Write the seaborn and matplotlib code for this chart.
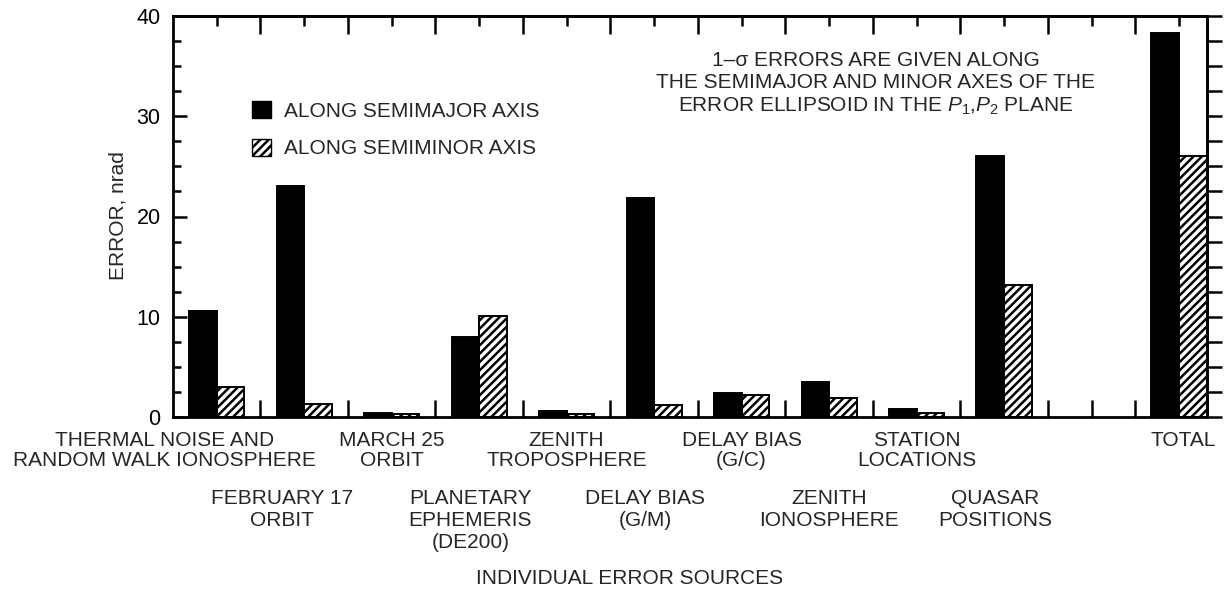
import numpy as np
import pandas as pd
import matplotlib
matplotlib.use("Agg")
import matplotlib.pyplot as plt
import seaborn as sns
from matplotlib.patches import Patch
from matplotlib.ticker import FixedLocator, MultipleLocator, NullFormatter

# ---- data -----------------------------------------------------------------
sources = ["THERMAL", "FEB17", "MAR25", "PLANETARY", "ZEN_TROP", "DELAY_GM",
           "DELAY_GC", "ZEN_ION", "STATION", "QUASAR", "SPACER", "TOTAL"]
semimajor = [10.6, 23.0, 0.4, 8.0, 0.6, 21.8, 2.4, 3.5, 0.8, 26.0, np.nan, 38.3]
semiminor = [3.0, 1.3, 0.25, 10.1, 0.3, 1.2, 2.2, 1.85, 0.4, 13.2, np.nan, 26.0]
series_names = ["ALONG SEMIMAJOR AXIS", "ALONG SEMIMINOR AXIS"]

row1_labels = ["THERMAL NOISE AND\nRANDOM WALK IONOSPHERE", "MARCH 25\nORBIT",
               "ZENITH\nTROPOSPHERE", "DELAY BIAS\n(G/C)", "STATION\nLOCATIONS", "TOTAL"]
row1_slots = [0, 2, 4, 6, 8, 11]
row1_shift = [-0.6, 0.0, 0.0, 0.0, 0.0, 0.05]
row2_labels = ["FEBRUARY 17\nORBIT", "PLANETARY\nEPHEMERIS\n(DE200)", "DELAY BIAS\n(G/M)",
               "ZENITH\nIONOSPHERE", "QUASAR\nPOSITIONS"]
row2_slots = [1, 3, 5, 7, 9]
row2_shift = [-0.25, -0.1, -0.1, 0.0, -0.1]

y_ticks = [0, 10, 20, 30, 40]

df = pd.DataFrame({
    "source": sources * 2,
    "error": semimajor + semiminor,
    "axis": [series_names[0]] * len(sources) + [series_names[1]] * len(sources),
})

# ---- style ----------------------------------------------------------------
sns.set_theme(style="white")
plt.rcParams["font.family"] = ["Liberation Sans", "DejaVu Sans"]
plt.rcParams["mathtext.fontset"] = "custom"
plt.rcParams["mathtext.rm"] = "Liberation Sans"
plt.rcParams["mathtext.it"] = "Liberation Sans:italic"
plt.rcParams["hatch.linewidth"] = 1.8
plt.rcParams["hatch.color"] = "black"

FS = 15
W, H = 1224, 593
fig = plt.figure(figsize=(W / 100, H / 100), dpi=100)
ax = fig.add_axes([173 / W, 1 - 417 / H, (1207 - 173) / W, (417 - 16) / H])

sns.barplot(data=df, x="source", y="error", hue="axis", order=sources,
            hue_order=series_names, palette=["black", "white"], saturation=1,
            width=0.63, gap=0, errorbar=None, edgecolor="black", linewidth=1.4,
            legend=False, ax=ax)

for patch in ax.containers[1]:
    patch.set_hatch("////")

ax.set_xlim(-0.5, 11.32)
ax.set_ylim(0, 40)
ax.set_xlabel("")
ax.set_ylabel("")

for side in ["left", "right", "top", "bottom"]:
    ax.spines[side].set_visible(True)
    ax.spines[side].set_linewidth(2.0)
    ax.spines[side].set_color("black")

# bottom: short inward ticks between groups
bottom_ticks = [0.5, 1.5, 2.5, 3.5, 4.5, 5.5, 6.5, 7.5, 8.5, 9.5, 10.0, 10.5]
ax.xaxis.set_major_locator(FixedLocator(bottom_ticks))
ax.xaxis.set_major_formatter(NullFormatter())
ax.tick_params(axis="x", which="major", direction="in", length=12, width=1.8,
               bottom=True, top=False, colors="black")

# left: labelled inward ticks
ax.yaxis.set_major_locator(FixedLocator(y_ticks))
ax.yaxis.set_minor_locator(MultipleLocator(2.5))
ax.set_yticklabels([str(v) for v in y_ticks])
ax.tick_params(axis="y", which="major", direction="in", length=10, width=1.8,
               labelsize=FS + 0.5, pad=9, left=True, right=False, colors="black")
ax.tick_params(axis="y", which="minor", direction="in", length=6, width=1.8,
               left=True, right=False, colors="black")

# top: long ticks at group boundaries, short ticks at group centres
top = ax.secondary_xaxis("top")
top.xaxis.set_major_locator(FixedLocator([i + 0.5 for i in range(11)]))
top.xaxis.set_minor_locator(FixedLocator(list(range(12))))
top.xaxis.set_major_formatter(NullFormatter())
top.tick_params(which="major", direction="in", length=13, width=1.8, colors="black")
top.tick_params(which="minor", direction="in", length=7, width=1.8, colors="black")
top.spines["top"].set_linewidth(2.0)

# right: outward ticks
right = ax.secondary_yaxis("right")
right.yaxis.set_major_locator(MultipleLocator(2.5))
right.yaxis.set_major_formatter(NullFormatter())
right.tick_params(which="major", direction="out", length=11, width=1.8, colors="black")
right.spines["right"].set_linewidth(2.0)

# category labels in two staggered rows
for lab, s, d in zip(row1_labels, row1_slots, row1_shift):
    ax.annotate(lab, xy=(s + d, 0), xycoords=("data", "axes fraction"),
                xytext=(0, -10), textcoords="offset points", ha="center", va="top",
                fontsize=FS, linespacing=1.1, annotation_clip=False)
for lab, s, d in zip(row2_labels, row2_slots, row2_shift):
    ax.annotate(lab, xy=(s + d, 0), xycoords=("data", "axes fraction"),
                xytext=(0, -52), textcoords="offset points", ha="center", va="top",
                fontsize=FS, linespacing=1.18, annotation_clip=False)

fig.text(630 / W, 1 - 578 / H, "INDIVIDUAL ERROR SOURCES", ha="center", va="center",
         fontsize=FS)
fig.text(118 / W, 1 - 216 / H, "ERROR, nrad", rotation=90, ha="center", va="center",
         fontsize=FS)

ax.text(876 / W, 1 - 84 / H,
        "1\u2013\u03c3 ERRORS ARE GIVEN ALONG\nTHE SEMIMAJOR AND MINOR AXES OF THE\n"
        "ERROR ELLIPSOID IN THE $P_1$,$P_2$ PLANE",
        transform=fig.transFigure, ha="center", va="center", fontsize=FS,
        linespacing=1.2, multialignment="center")

handles = [Patch(facecolor="black", edgecolor="black"),
           Patch(facecolor="white", edgecolor="black", hatch="////")]
ax.legend(handles, series_names, loc="upper left", bbox_to_anchor=(252 / W, 1 - 101 / H),
          bbox_transform=fig.transFigure, frameon=False, fontsize=FS,
          handlelength=0.9, handleheight=0.9, handletextpad=0.65, labelspacing=0.85,
          borderpad=0, borderaxespad=0)

fig.savefig("out.png", dpi=100, facecolor="white")
